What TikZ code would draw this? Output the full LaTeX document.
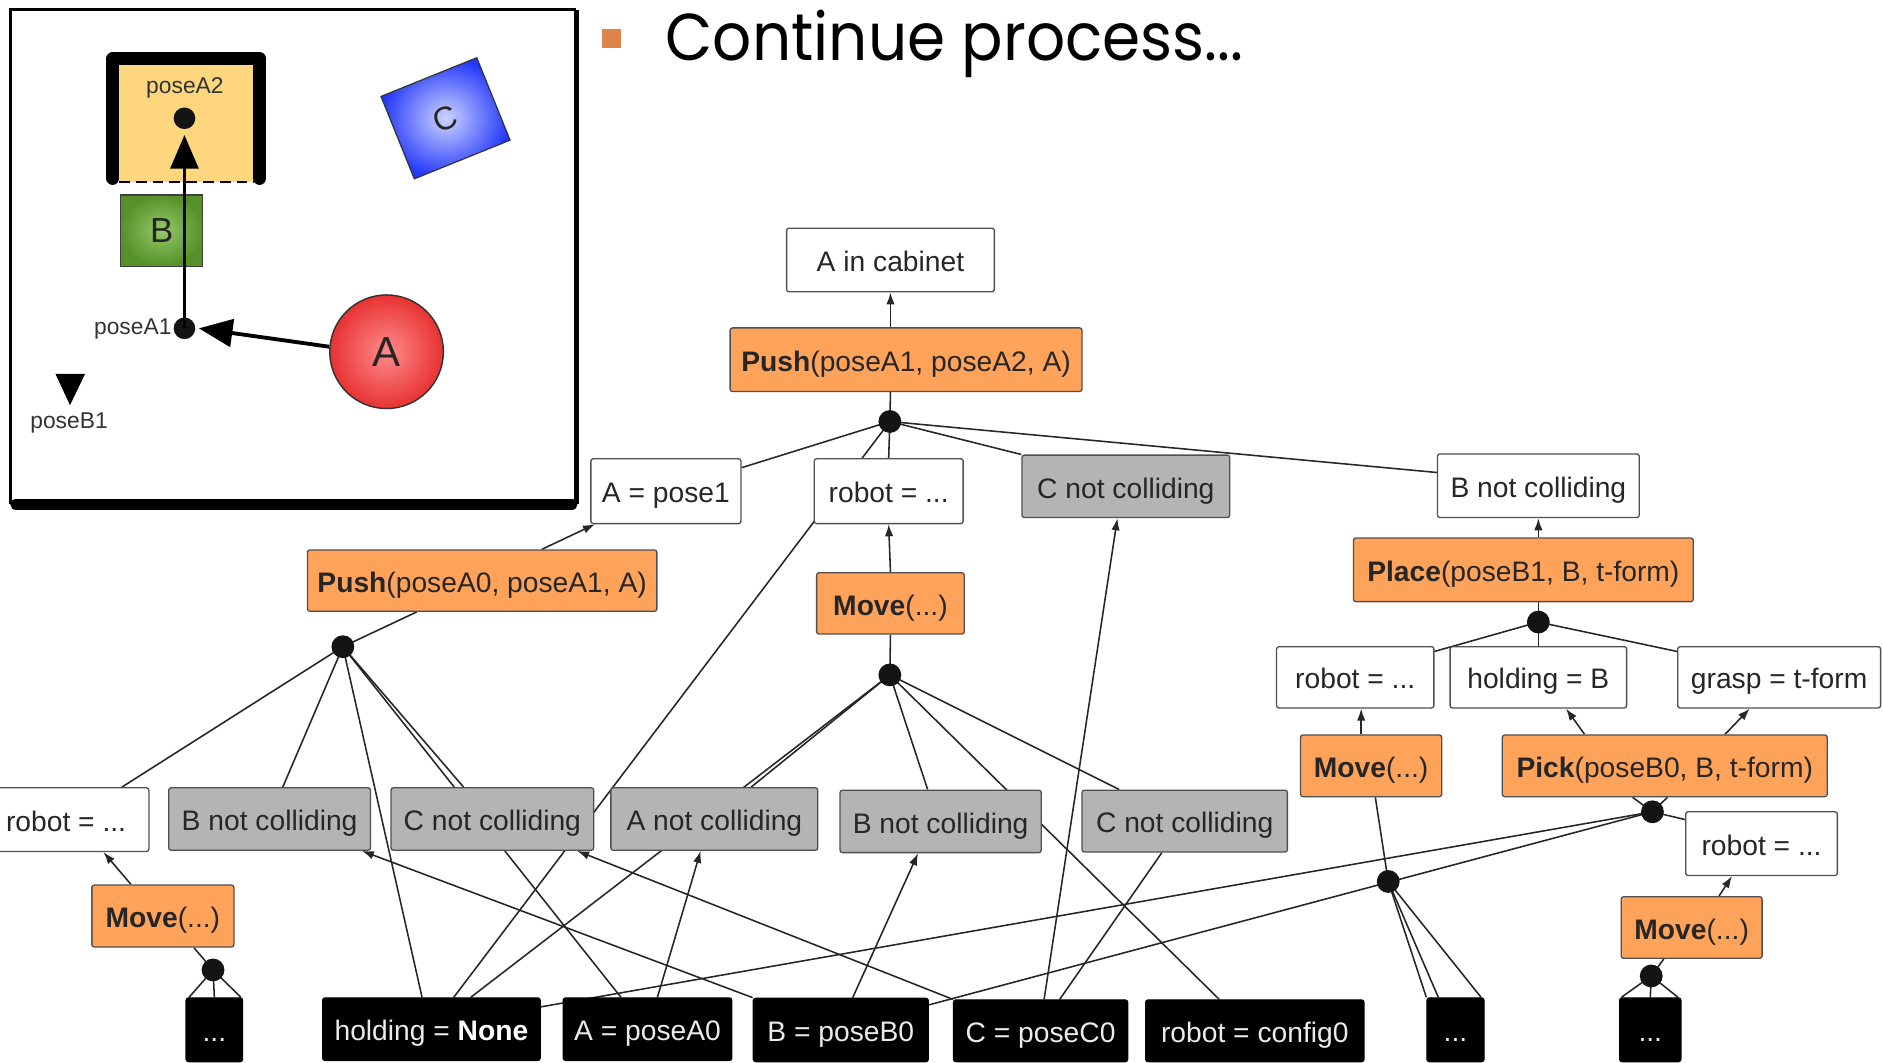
\documentclass[tikz,border=0pt]{standalone}
\usepackage{graphicx}
\usepackage{fontspec}
\setmainfont{Liberation Sans}
\newfontfamily\titlefont{Poppins}
\usetikzlibrary{arrows.meta,shapes.geometric}
\pgfdeclarelayer{edges}
\pgfsetlayers{edges,main}
\definecolor{actfill}{RGB}{255,163,91}
\definecolor{condgray}{RGB}{180,180,180}
\definecolor{boxline}{RGB}{80,80,80}
\definecolor{txt}{RGB}{38,38,38}
\definecolor{bulletorange}{RGB}{224,131,75}
\definecolor{cabfill}{RGB}{254,214,125}
\definecolor{redin}{RGB}{255,140,140}
\definecolor{redout}{RGB}{232,50,50}
\definecolor{bluein}{RGB}{205,212,255}
\definecolor{blueout}{RGB}{35,55,250}
\definecolor{greenin}{RGB}{150,200,105}
\definecolor{greenout}{RGB}{85,145,40}

\begin{document}
\begin{tikzpicture}[x=1pt,y=-1pt,
  box/.style={draw=boxline, line width=1.1pt, rounded corners=2pt, inner sep=0pt,
    font=\fontsize{23.5}{28}\selectfont, text=txt, text height=22pt, text depth=2.6pt},
  wbox/.style={box, fill=white},
  gbox/.style={box, fill=condgray},
  obox/.style={box, fill=actfill},
  bbox/.style={box, fill=black, draw=black, text=black!8},
  jn/.style={circle, fill=black!92, inner sep=0pt, minimum size=19pt},
  ed/.style={draw=black!85, line width=1.3pt},
  ar/.style={ed, -{Latex[length=10pt,width=7pt]}},
  lbl/.style={font=\fontsize{19}{22}\selectfont, text=black!80, inner sep=0pt},
  bigar/.style={line width=3.2pt, -{Triangle[length=28pt,width=23pt]}},
]
\useasboundingbox (0,0) rectangle (1568,885);

% ---------- title ----------
\node[fill=bulletorange, minimum size=16pt, inner sep=0pt] (bullet) at (509,32) {};
\node[anchor=base west, inner sep=0pt] (title) at (554,50)
  {\resizebox{481pt}{42pt}{\titlefont Continue process...}};

% ---------- scene ----------
\draw[line width=2.2pt] (9,420) -- (9,8) -- (480,8);
\draw[line width=3.8pt] (480,8) -- (480,420);
\draw[line width=9.7pt, line cap=round] (13.5,420) -- (476,420);

% cabinet
\fill[cabfill] (99,54) rectangle (211.5,151.5);
\draw[line width=11pt, line cap=round, line join=round]
  (94,148.5) -- (94,48.9) -- (216.3,48.9) -- (216.3,148.5);
\draw[line width=1.8pt, dash pattern=on 9pt off 5pt] (99,151.5) -- (211.5,151.5);

% blocks
\node[draw=black!75, line width=1pt, inner color=greenin, outer color=greenout,
  minimum width=68.5pt, minimum height=59.6pt, inner sep=0pt,
  font=\fontsize{29}{32}\selectfont, text=black!85] (boxB) at (134.65,192.2) {B};
\node[draw=black!80, line width=1pt, inner color=bluein, outer color=blueout,
  minimum width=86pt, minimum height=74pt, inner sep=0pt, rotate=22,
  font=\fontsize{27}{30}\selectfont, text=black!85] (boxC) at (371,98.5) {C};
\node[circle, draw=black!80, line width=1.2pt, inner color=redin, outer color=redout,
  minimum size=94.6pt, inner sep=0pt,
  font=\fontsize{35}{40}\selectfont, text=black!85] (circA) at (321.9,292.9) {A};

% poses
\node[jn, minimum size=18pt] (pA2) at (153.6,98.5) {};
\node[jn, minimum size=18pt] (pA1) at (153.6,273.4) {};
\node[lbl] (lA2) at (154,73) {poseA2};
\node[lbl, anchor=east] (lA1) at (143,274) {poseA1};
\fill (46.2,311.4) -- (70.8,311.4) -- (58.3,337.4) -- cycle;
\node[lbl] (lB1) at (57.5,352.6) {poseB1};

\draw[bigar] (pA1.center) -- ([yshift=-13.9pt]pA2.center);
\draw[bigar] ([yshift=4.2pt]circA.west) -- ([xshift=12pt]pA1.center);

% ---------- plan graph ----------
\node[wbox, minimum width=173pt, minimum height=53pt] (cab) at (741.5,216.5) {A in cabinet};
\node[obox, minimum width=293pt, minimum height=53pt] (pushA2) at (754.5,299.5) {\textbf{Push}(poseA1, poseA2, A)};
\node[jn] (j1) at (741,351) {};
\node[wbox, minimum width=125pt, minimum height=54pt] (apose1) at (554.5,409) {A = pose1};
\node[wbox, minimum width=124pt, minimum height=54pt] (robot1) at (740,409) {robot = ...};
\node[gbox, minimum width=173pt, minimum height=52pt] (cnc1) at (937.5,405) {C not colliding};
\node[wbox, minimum width=168pt, minimum height=53pt] (bnc1) at (1281,404.5) {B not colliding};
\node[obox, minimum width=291pt, minimum height=51pt] (pushA1) at (401.5,483.5) {\textbf{Push}(poseA0, poseA1, A)};
\node[obox, minimum width=123pt, minimum height=51pt] (move1) at (741.5,502.5) {\textbf{Move}(...)};
\node[jn] (j2) at (285.5,538.5) {};
\node[jn] (j3) at (741,562) {};
\node[obox, minimum width=283pt, minimum height=53pt] (place) at (1268.5,474.5) {\textbf{Place}(poseB1, B, t-form)};
\node[jn] (j4) at (1281,518) {};
\node[wbox, minimum width=131pt, minimum height=51pt] (robot2) at (1128.5,564) {robot = ...};
\node[wbox, minimum width=147pt, minimum height=51pt] (holdB) at (1281,564) {holding = B};
\node[wbox, minimum width=169pt, minimum height=51pt] (grasp) at (1481.5,564) {grasp = t-form};
\node[obox, minimum width=117.5pt, minimum height=51.4pt] (move2) at (1141.75,637.7) {\textbf{Move}(...)};
\node[obox, minimum width=270.5pt, minimum height=51.4pt] (pick) at (1386.25,637.7) {\textbf{Pick}(poseB0, B, t-form)};
\node[jn] (j5) at (1376,676) {};
\node[wbox, minimum width=126.3pt, minimum height=53pt] (robot3) at (1466.85,702.5) {robot = ...};
\node[obox, minimum width=117.3pt, minimum height=51.3pt] (move3) at (1408.65,772.35) {\textbf{Move}(...)};
\node[jn] (j6) at (1375,812.7) {};
\node[bbox, minimum width=51pt, minimum height=53pt] (dots3) at (1374.2,857.5) {...};
\node[jn] (j7) at (1156,734) {};
\node[bbox, minimum width=47.5pt, minimum height=53pt] (dots2) at (1212,857.5) {...};
\node[wbox, minimum width=138pt, minimum height=53pt] (robot0) at (55,682.5) {robot = ...};
\node[gbox, minimum width=168pt, minimum height=52pt] (bnc0) at (224.5,682) {B not colliding};
\node[gbox, minimum width=168.8pt, minimum height=52pt] (cnc0) at (410,682) {C not colliding};
\node[gbox, minimum width=172.3pt, minimum height=52pt] (anc) at (594.85,682) {A not colliding};
\node[gbox, minimum width=167.5pt, minimum height=52pt] (bnc2) at (783.25,684) {B not colliding};
\node[gbox, minimum width=171pt, minimum height=51.5pt] (cnc2) at (986.5,683.75) {C not colliding};
\node[obox, minimum width=118.3pt, minimum height=51.6pt] (move0) at (135.65,762.8) {\textbf{Move}(...)};
\node[jn] (j8) at (177.4,807.7) {};
\node[bbox, minimum width=47pt, minimum height=53pt] (dots1) at (178.5,857.5) {...};
\node[bbox, minimum width=181.1pt, minimum height=52pt] (holdN) at (359.25,857) {holding = \textcolor{white}{\textbf{None}}};
\node[bbox, minimum width=140.4pt, minimum height=52pt] (aA0) at (539.2,857) {A = poseA0};
\node[bbox, minimum width=145.7pt, minimum height=52.7pt] (bB0) at (700.15,857.65) {B = poseB0};
\node[bbox, minimum width=145pt, minimum height=51.3pt] (cC0) at (866.5,858.35) {C = poseC0};
\node[bbox, minimum width=181.8pt, minimum height=51.3pt] (rconf) at (1044.9,858.35) {robot = config0};

\begin{pgfonlayer}{edges}
% top action
\draw[ar] ([xshift=-13pt]pushA2.north) -- (cab.south);
\draw[ed] ([xshift=-13pt]pushA2.south) -- (j1.center);
\draw[ed] (j1.center) -- ([yshift=-8pt]apose1.north east);
\draw[ed] (j1.center) -- (robot1.north);
\draw[ed] (j1.center) -- ([xshift=109.7pt]holdN.north west);
\draw[ed] (j1.center) -- (cnc1.north west);
\draw[ed] (j1.center) -- ([yshift=-16pt]bnc1.north west);
% left push
\draw[ar] ([xshift=195.7pt]pushA1.north west) -- ([xshift=4pt]apose1.south west);
\draw[ed] ([xshift=91.6pt]pushA1.south west) -- (j2.center);
\draw[ed] (j2.center) -- ([xshift=116pt]robot0.north west);
\draw[ed] (j2.center) -- ([xshift=95.5pt]bnc0.north west);
\draw[ed] (j2.center) -- ([xshift=83.3pt]holdN.north west);
\draw[ed] (j2.center) -- ([xshift=61pt]cnc0.north west);
\draw[ed] (j2.center) -- ([xshift=48.6pt]aA0.north west);
% middle move
\draw[ar] (move1.north) -- (robot1.south);
\draw[ed] (move1.south) -- (j3.center);
\draw[ed] (j3.center) -- ([xshift=117.3pt]anc.north west);
\draw[ed] (j3.center) -- ([xshift=123.9pt]holdN.north west);
\draw[ed] (j3.center) -- ([xshift=73.5pt]bnc2.north west);
\draw[ed] (j3.center) -- ([xshift=61.8pt]rconf.north west);
\draw[ed] (j3.center) -- ([xshift=31.5pt]cnc2.north west);
% place
\draw[ar] ([xshift=12.5pt]place.north) -- (bnc1.south);
\draw[ed] ([xshift=12.5pt]place.south) -- (j4.center);
\draw[ed] (j4.center) -- ([yshift=-4.5pt]robot2.north east);
\draw[ed] (j4.center) -- (holdB.north);
\draw[ed] (j4.center) -- ([yshift=-4.5pt]grasp.north west);
\draw[ar] ([xshift=51pt]move2.north west) -- ([xshift=71pt]robot2.south west);
\draw[ar] ([xshift=69pt]pick.north west) -- ([xshift=97.1pt]holdB.south west);
\draw[ar] ([xshift=186pt]pick.north west) -- ([xshift=60.6pt]grasp.south west);
% pick
\draw[ed] (j5.center) -- ([xshift=109pt]pick.south west);
\draw[ed] (j5.center) -- ([xshift=138pt]pick.south west);
\draw[ed] (j5.center) -- ([yshift=-7pt]robot3.north west);
\draw[ed] (j5.center) -- ([yshift=-8pt]holdN.north east);
\draw[ed] (j5.center) -- ([yshift=-6pt]bB0.north east);
\draw[ar] ([xshift=82pt]move3.north west) -- ([xshift=39.1pt]robot3.south west);
\draw[ed] ([xshift=36pt]move3.south west) -- (j6.center);
\draw[ed] (j6.center) -- ([xshift=2pt]dots3.north west);
\draw[ed] (j6.center) -- (dots3.north);
\draw[ed] (j6.center) -- ([xshift=-3pt]dots3.north east);
% right move
\draw[ed] ([xshift=62.8pt]move2.south west) -- (j7.center);
\draw[ed] (j7.center) -- (dots2.north west);
\draw[ed] (j7.center) -- ([xshift=10pt]dots2.north west);
\draw[ed] (j7.center) -- ([xshift=-3pt]dots2.north east);
% left move
\draw[ar] ([xshift=33.1pt]move0.north west) -- ([xshift=100.7pt]robot0.south west);
\draw[ed] ([xshift=85.5pt]move0.south west) -- (j8.center);
\draw[ed] (j8.center) -- ([xshift=3pt]dots1.north west);
\draw[ed] (j8.center) -- (dots1.north);
\draw[ed] (j8.center) -- ([xshift=-2pt]dots1.north east);
% initial state
\draw[ar] ([xshift=79pt]aA0.north west) -- ([xshift=75.3pt]anc.south west);
\draw[ar] ([xshift=83.3pt]bB0.north west) -- ([xshift=65.5pt]bnc2.south west);
\draw[ar] (bB0.north west) -- ([xshift=-7.7pt]bnc0.south east);
\draw[ar] (cC0.north west) -- ([xshift=-14.4pt]cnc0.south east);
\draw[ar] ([xshift=76pt]cC0.north west) -- ([xshift=80pt]cnc1.south west);
\draw[ed] ([xshift=89pt]cC0.north west) -- ([xshift=67pt]cnc2.south west);
\end{pgfonlayer}
\end{tikzpicture}
\end{document}
